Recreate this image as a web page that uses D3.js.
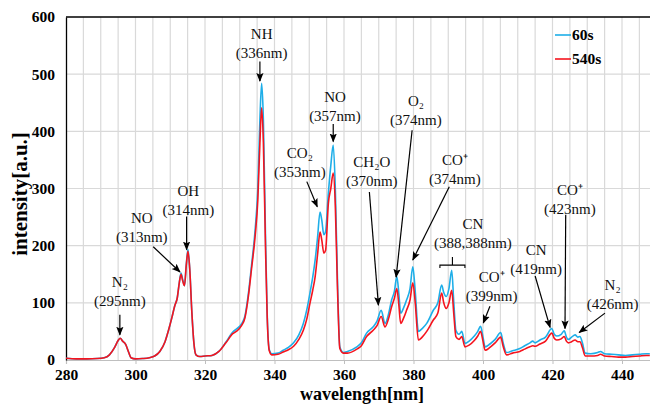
<!DOCTYPE html>
<html>
<head>
<meta charset="utf-8">
<script src="https://d3js.org/d3.v7.min.js"></script>
<style>
  body { margin: 0; background: #fff; }
  text { font-family: "Liberation Serif", "Times New Roman", serif; }
  .tick-label { font-weight: bold; font-size: 15.5px; }
  .axis-title { font-weight: bold; font-size: 18px; }
  .note { font-size: 15px; }
</style>
</head>
<body>
<div id="chart"></div>
<script>
// wavelength grid (nm) and intensities of the two exposures
var wl = [280, 283, 286, 289, 291, 292.5, 294, 295, 295.6, 296.3, 297.2, 298, 298.7, 300, 302, 304, 305.5, 307, 308.5, 309.5,
    310.5, 311.3, 312, 312.6, 313.1, 313.6, 314.1, 314.6, 315.1, 315.6, 316.2, 316.8, 317.4, 318.5, 320, 322, 324, 326, 328, 329,
    330.5, 331.5, 332.5, 333.4, 334.4, 335.2, 335.8, 336.3, 336.8, 337.4, 337.9, 338.5, 339.2, 341, 342.5, 344, 345.5, 347, 348.3, 349.3,
    350.2, 351, 351.7, 352.4, 353.1, 353.6, 354.2, 354.7, 355.5, 356.2, 356.9, 357.5, 358.1, 358.8, 359.8, 361, 363.7, 365, 366.5, 368.4,
    369.5, 370.7, 371.8, 372.8, 373.7, 374.5, 375.2, 375.8, 376.3, 377.2, 378, 379, 379.8, 380.5, 381.4, 382.5, 383.8, 385.7, 387, 388.1,
    388.7, 389.4, 390.2, 391, 391.6, 392.2, 393.1, 393.9, 394.8, 396, 397.5, 398.5, 399.3, 400, 400.6, 402, 403.5, 405.1, 405.8, 406.8,
    408.5, 410.6, 412, 413.5, 414.3, 415, 416.4, 418, 419.8, 420.5, 421.2, 422.5, 423.4, 424, 424.6, 425.5, 426.5, 427.3, 427.9, 428.6,
    429.4, 431, 433, 433.8, 435, 437, 439, 441, 443, 445, 447, 448];

var s60 = [3, 2, 2, 2.5, 4, 9, 22, 34, 38, 33, 27, 14, 4, 2, 2.5, 4, 7, 15, 32, 52,
    75, 95, 108, 135, 152, 140, 130, 166, 193, 160, 86, 30, 9, 6, 7, 8, 15, 31, 49, 54,
    63, 77, 117, 166, 226, 300, 420, 484, 420, 220, 80, 18, 11, 12, 17, 22, 30, 44, 64, 88,
    117, 145, 175, 215, 259, 245, 219, 225, 292, 340, 376, 300, 146, 23, 13, 15, 23, 30, 47, 58,
    68, 87, 64, 80, 105, 120, 146, 115, 82, 92, 105, 125, 163, 120, 50, 55, 64, 87, 100, 131,
    118, 111, 125, 157, 100, 52, 45, 50, 29, 33, 42, 50, 59, 40, 23, 28, 36, 48, 30, 13,
    16, 20, 25, 30, 33, 30, 35, 40, 55, 45, 42, 45, 51, 40, 36, 40, 44, 40, 41, 30,
    12, 11, 13, 15, 11, 10, 9, 8, 9, 10, 11, 11];

var s540 = [3, 2, 2, 2.5, 4, 9, 22, 34, 38, 33, 27, 14, 4, 2, 2.5, 4, 7, 15, 32, 52,
    75, 95, 108, 135, 150, 138, 130, 165, 190, 160, 85, 30, 9, 6, 7, 8, 15, 30, 46, 50,
    60, 74, 112, 160, 215, 280, 380, 441, 380, 200, 75, 16, 9, 10, 14, 18, 24, 36, 52, 72,
    99, 122, 146, 185, 224, 210, 187, 192, 274, 300, 327, 270, 130, 20, 12, 12, 19, 25, 41, 52,
    60, 76, 58, 72, 93, 108, 125, 95, 64, 74, 87, 105, 135, 100, 35, 40, 50, 70, 82, 117,
    100, 90, 100, 122, 80, 41, 36, 41, 23, 26, 34, 42, 50, 33, 17, 22, 30, 40, 24, 9,
    12, 15, 19, 23, 25, 24, 28, 33, 47, 38, 35, 37, 41, 33, 30, 32, 35, 32, 32, 22,
    7, 7, 8, 10, 7, 6, 5, 5, 6, 7, 8, 8];

var xTicks = [280, 300, 320, 340, 360, 380, 400, 420, 440];
var yTicks = [0, 100, 200, 300, 400, 500, 600];
var seriesNames = ["60s", "540s"];
var seriesColors = ["#1eaee8", "#f5141e"];

// peak labels: first-line centre and arrow tail/tip, in data units
var notes = [
    { lines: ["N\u2082", "(295nm)"], at: [295.5, 137], from: [295.5, 79], to: [295.5, 44] },
    { lines: ["NO", "(313nm)"], at: [301.8, 248], from: [305.1, 198], to: [312.8, 154] },
    { lines: ["OH", "(314nm)"], at: [315.2, 296], from: [314.7, 251], to: [314.7, 193] },
    { lines: ["NH", "(336nm)"], at: [336.3, 571], from: [335.8, 522], to: [335.8, 488] },
    { lines: ["CO\u2082", "(353nm)"], at: [347.3, 362], from: [349.3, 312], to: [352.3, 268] },
    { lines: ["NO", "(357nm)"], at: [357.4, 461], from: [356.9, 413], to: [356.9, 382] },
    { lines: ["CH\u2082O", "(370nm)"], at: [368, 347], from: [367.3, 294], to: [369.9, 96] },
    { lines: ["O\u2082", "(374nm)"], at: [380.7, 453], from: [379.6, 402], to: [375, 145] },
    { lines: ["CO\u207a", "(374nm)"], at: [391.9, 351], from: [390.3, 303], to: [379.8, 175] },
    { lines: ["CN", "(388,388nm)"], at: [397.1, 239], from: null, to: null },
    { lines: ["CO\u207a", "(399nm)"], at: [402.5, 146], from: [402, 94], to: [400.1, 65] },
    { lines: ["CN", "(419nm)"], at: [415.3, 192], from: [415, 147], to: [419.3, 57] },
    { lines: ["CO\u207a", "(423nm)"], at: [425, 297], from: [423.8, 254], to: [423.6, 55] },
    { lines: ["N\u2082", "(426nm)"], at: [437.3, 131], from: [435.1, 82], to: [427.7, 48] }
];
var cnBracket = { x0: 387.6, x1: 394.8, mid: 391.2, y: 166, top: 180 };

var svg = d3.select('#chart')
    .append('svg')
    .attr('width', 650)
    .attr('height', 408);

var margin = { top: 17, left: 66, bottom: 48 };
var height = 408 - margin.top - margin.bottom;

var x = d3.scaleLinear().domain([280, 450]).range([margin.left, margin.left + 170 * 3.475]);
var y = d3.scaleLinear().domain([0, 600]).range([margin.top + height, margin.top]);

var defs = svg.append("defs");
defs.append("marker")
    .attr("id", "arrow")
    .attr("viewBox", "0 -5 10 10")
    .attr("refX", 9)
    .attr("refY", 0)
    .attr("markerWidth", 9)
    .attr("markerHeight", 9)
    .attr("markerUnits", "userSpaceOnUse")
    .attr("orient", "auto")
    .append("path")
    .attr("d", "M0,-4L10,0L0,4L2,0Z")
    .attr("fill", "#000");

// grid
var grid = svg.append("g");
grid.selectAll(".vgrid")
    .data(d3.range(285, 451, 5))
    .enter().append("line")
    .attr("x1", function (d) { return x(d); })
    .attr("x2", function (d) { return x(d); })
    .attr("y1", y(600))
    .attr("y2", y(0))
    .attr("stroke", "#d9d9d9")
    .attr("stroke-width", 1.2);
grid.selectAll(".hgrid")
    .data(yTicks.slice(1, -1))
    .enter().append("line")
    .attr("x1", x(280))
    .attr("x2", x(450))
    .attr("y1", function (d) { return y(d); })
    .attr("y2", function (d) { return y(d); })
    .attr("stroke", "#d9d9d9")
    .attr("stroke-width", 1.2);

// x axis
var xAxis = svg.append("g")
    .attr("transform", "translate(0," + y(0) + ")")
    .call(d3.axisBottom(x).tickValues(xTicks).tickSize(4).tickPadding(5).tickFormat(d3.format("d")));
xAxis.select(".domain").attr("stroke", "#bfbfbf").attr("stroke-width", 1.2);
xAxis.selectAll(".tick line").attr("stroke", "#bfbfbf");
xAxis.selectAll(".tick text")
    .attr("class", "tick-label")
    .attr("fill", "#000")
    .style("font-family", "'Liberation Serif', serif");

// y axis
var yAxis = svg.append("g")
    .attr("transform", "translate(" + margin.left + ",0)")
    .call(d3.axisLeft(y).tickValues(yTicks).tickSize(0).tickPadding(11));
yAxis.select(".domain").attr("stroke", "#000").attr("stroke-width", 1.3);
yAxis.selectAll(".tick text")
    .attr("class", "tick-label")
    .attr("fill", "#000")
    .style("font-family", "'Liberation Serif', serif");

// top border
svg.append("line")
    .attr("x1", x(280))
    .attr("x2", x(450))
    .attr("y1", y(600))
    .attr("y2", y(600))
    .attr("stroke", "#000")
    .attr("stroke-width", 1.3);

// titles
svg.append("text")
    .attr("class", "axis-title")
    .attr("x", 362)
    .attr("y", 400)
    .attr("text-anchor", "middle")
    .text("wavelength[nm]");
svg.append("text")
    .attr("class", "axis-title")
    .style("font-size", "21px")
    .attr("transform", "translate(27,194) rotate(-90)")
    .attr("text-anchor", "middle")
    .text("intensity[a.u.]");

// spectra
var series = [s60, s540];
var line = d3.line()
    .x(function (d, i) { return x(wl[i]); })
    .y(function (d) { return y(d); })
    .curve(d3.curveMonotoneX);

for (var i = 0; i < series.length; i++) {
    svg.append("path")
        .datum(series[i])
        .attr("fill", "none")
        .attr("stroke", seriesColors[i])
        .attr("stroke-width", 1.6)
        .attr("stroke-linejoin", "round")
        .attr("d", line);
}

// legend
var legend = svg.append("g");
for (var j = 0; j < seriesNames.length; j++) {
    legend.append("line")
        .attr("x1", 555)
        .attr("x2", 571)
        .attr("y1", 35 + j * 24)
        .attr("y2", 35 + j * 24)
        .attr("stroke", seriesColors[j])
        .attr("stroke-width", 1.6);
    legend.append("text")
        .attr("class", "tick-label")
        .attr("x", 572)
        .attr("y", 35 + j * 24)
        .attr("dy", "0.35em")
        .text(seriesNames[j]);
}

// annotations
var noteG = svg.append("g");
notes.forEach(function (n) {
    n.lines.forEach(function (t, k) {
        noteG.append("text")
            .attr("class", "note")
            .attr("x", x(n.at[0]))
            .attr("y", y(n.at[1]) + k * 19)
            .attr("dy", "0.35em")
            .attr("text-anchor", "middle")
            .attr("fill", "#111")
            .text(t);
    });
    if (n.from) {
        noteG.append("line")
            .attr("x1", x(n.from[0]))
            .attr("y1", y(n.from[1]))
            .attr("x2", x(n.to[0]))
            .attr("y2", y(n.to[1]))
            .attr("stroke", "#000")
            .attr("stroke-width", 1.2)
            .attr("marker-end", "url(#arrow)");
    }
});

// bracket over the CN pair
noteG.append("path")
    .attr("d", "M" + x(cnBracket.x0) + "," + (y(cnBracket.y) + 3) +
        "V" + y(cnBracket.y) + "H" + x(cnBracket.x1) + "V" + (y(cnBracket.y) + 3) +
        "M" + x(cnBracket.mid) + "," + y(cnBracket.y) + "V" + y(cnBracket.top))
    .attr("fill", "none")
    .attr("stroke", "#000")
    .attr("stroke-width", 1.1);
</script>
</body>
</html>
